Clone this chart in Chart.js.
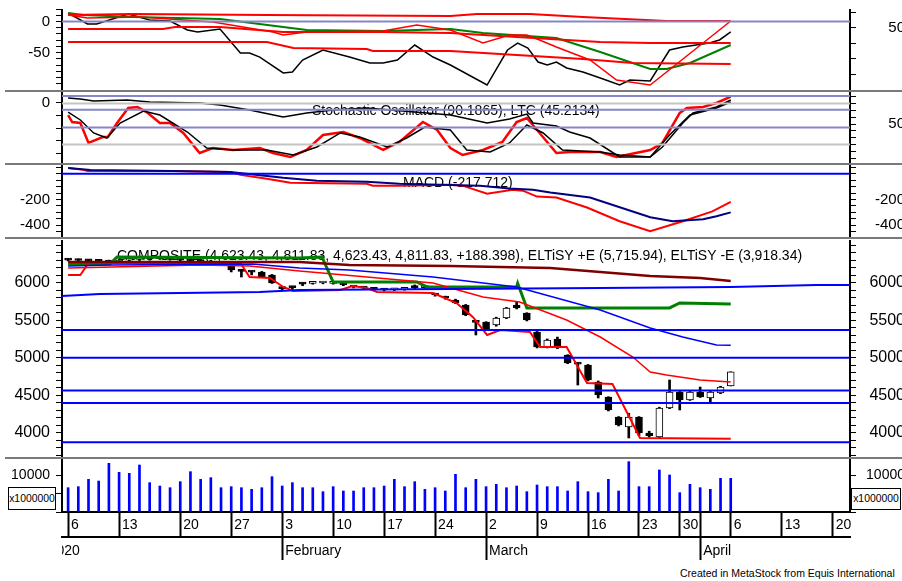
<!DOCTYPE html>
<html>
<head>
<meta charset="utf-8">
<script src="https://cdn.jsdelivr.net/npm/chart.js@4.4.1/dist/chart.umd.min.js"></script>
<style>
html, body { margin: 0; padding: 0; background: #fff; overflow: hidden; }
#wrap { position: relative; width: 902px; height: 581px; overflow: hidden; font-family: "Liberation Sans", Arial, sans-serif; }
canvas { position: absolute; left: 0; }
.sep { position: absolute; left: 5px; width: 897px; height: 2px; background: #7a7a7a; }
.box { position: absolute; border: 1px solid #000; font-size: 10.4px; text-align: center; background: #fff; color: #000; white-space: nowrap; }
#credit { position: absolute; left: 680px; top: 567px; font-size: 10.5px; color: #000; white-space: nowrap; }
#clip2020 { position: absolute; left: 0; top: 538px; width: 62px; height: 24px; background: #fff; }
</style>
</head>
<body>
<div id="wrap">
  <canvas id="cMom" width="906" height="81" style="top:9px"></canvas>
  <canvas id="cSto" width="906" height="71" style="top:92px"></canvas>
  <canvas id="cMacd" width="906" height="72" style="top:165px"></canvas>
  <canvas id="cPrice" width="906" height="218" style="top:240px"></canvas>
  <canvas id="cVol" width="906" height="102" style="top:458px"></canvas>
  <div class="sep" style="top:90px"></div>
  <div class="sep" style="top:163px"></div>
  <div class="sep" style="top:237px"></div>
  <div class="sep" style="top:457px"></div>
  <div id="clip2020"></div>
  <div class="box" style="left:8px;top:487px;width:46px;height:21px;line-height:21px">x1000000</div>
  <div class="box" style="left:851px;top:488px;width:48px;height:20px;line-height:20px">x1000000</div>
  <div id="credit">Created in MetaStock from Equis International</div>
</div>
<script>
// bar index 0 = Jan 6 2020, one step per trading day
const XMIN = -0.6, XMAX = 76.7;
const FONT = '"Liberation Sans", Arial, sans-serif';

// date axis
const dayTicks = [0, 5, 11, 16, 21, 26, 31, 36, 41, 46, 51, 56, 60, 62, 65, 70, 75];
const dayLabels = ['6', '13', '20', '27', '3', '10', '17', '24', '2', '9', '16', '23', '30', '', '6', '13', '20'];
const monthTicks = [-2.2, 21, 41, 62];
const monthLabels = ['2020', 'February', 'March', 'April'];

// top panel (oscillator with bands)
const momBlack = [[0,13.6],[1.9,-4],[2.8,-4],[5.9,12],[8,2.4],[10,0.8],[11.7,-13.6],[12.7,-16.8],[14.9,-12],[16.9,-50.5],[17.8,-50.5],[18.8,-57],[21.1,-82.5],[22,-81],[23,-61.7],[25,-45.7],[27.6,-57],[29.6,-66.5],[30.9,-66.5],[32.3,-61.7],[34,-37.7],[35.8,-57],[37.5,-69.7],[41.1,-101.8],[43.1,-45.7],[44.1,-34.5],[45.1,-42.5],[46.1,-65],[47,-69.7],[47.9,-65],[48.9,-74.5],[50.5,-81],[52.2,-90.5],[54.1,-101.8],[55.1,-93.8],[57.1,-95.4],[59,-45.7],[60.3,-40.9],[62.9,-34.5],[63.9,-29.6],[65,-16.8]];
const momGreen = [[0,13.6],[1.5,10.4],[6.4,7.2],[14.9,4],[21.1,-8.8],[23.4,-13.6],[30.9,-15.2],[37.5,-12],[40.7,-18.4],[47.9,-26.4],[52.2,-48.9],[57.1,-76],[58.7,-76],[61,-66.5],[65,-37.7]];
const momRedTop = [[0,10.4],[6.4,12],[19.5,10.4],[37.5,8.8],[40.1,12],[45.3,12],[50.5,7.2],[58.7,0.8],[65,0.8]];
const momRedFast = [[0,10.4],[1.9,5.6],[7.1,7.2],[14.2,-0.8],[20.1,-16.8],[21.1,-21.6],[23.4,-16.8],[30.9,-15.2],[34.2,-5.6],[37.5,-13.6],[40.7,-34.5],[43.3,-21.6],[45,-21.6],[46,-28],[47.9,-40.9],[51.2,-61.7],[53.8,-93.8],[57.1,-101.8],[65,0.8]];
const momRedMid = [[0,-12],[9.3,-12],[10.5,-8.8],[14.9,-8.8],[21.1,-16.8],[30.9,-16.8],[37.5,-18.4],[52.2,-32.9],[57.1,-34.5],[65,-34.5]];
const momRedLow = [[0,-32.9],[19.5,-32.9],[22.1,-42.5],[29.3,-44.1],[29.9,-47.3],[37.5,-47.3],[44,-53.7],[50.5,-60.1],[55.4,-66.5],[65,-68.1]];

// stochastic panel
const stochK = [[0,63.2],[0.4,52.9],[1.2,51.5],[2,22.1],[3.4,30.9],[3.9,30.9],[4.8,51.5],[5.9,73.5],[6.8,75],[7.7,67.6],[9,51.5],[10,51.5],[11.3,36.8],[12.9,7.4],[14.2,14.7],[16.2,11.8],[18.8,14.7],[20.1,7.4],[21.8,1.5],[23.4,11.8],[25,33.8],[27,38.2],[28.6,29.4],[30.9,11.8],[32.5,23.5],[34.8,52.9],[36.2,41.2],[37.5,14.7],[38.7,4.4],[40.7,11.8],[42.6,23.5],[44,52.9],[45,58.8],[46,41.2],[47.9,7.4],[49.2,8.8],[52.2,8.8],[53.8,1.5],[57.1,11.8],[58.3,22.1],[60,66.2],[60.7,73.5],[62.3,75],[63.6,80.9],[65,90.2]];
const stochD = [[0,67.6],[1.2,55.9],[2.5,36.8],[3.8,29.4],[5.1,51.5],[7.4,69.1],[9,63.2],[11.7,38.2],[13.6,14.7],[16.2,11.8],[19.5,11.8],[22.1,4.4],[24.4,16.2],[26.7,36.8],[28.6,30.9],[31.3,16.2],[33.2,29.4],[35,45.6],[37.5,41.2],[39.1,11.8],[41.4,8.8],[43.3,22.1],[45,48.5],[46.6,36.8],[48.5,11.8],[52.2,8.8],[54.1,4.4],[57.1,1.5],[58.3,16.2],[60.3,51.5],[61.3,66.2],[63.6,75],[65,85.3]];
const ltcLine = [[0,4],[1.2,3.2],[2.5,1.6],[5.8,2.4],[8,0.8],[12.9,0],[14.9,-1.6],[17.8,-5.6],[21.1,-11.2],[23.4,-8],[26,-5.6],[29.3,-4],[37.5,-9.6],[41.1,-16],[43.3,-12.8],[45,-8.8],[45.6,-16],[47.9,-18.4],[49.2,-23.2],[51.2,-28],[54.1,-43.2],[57.1,-43.2],[59,-25.6],[61,-9.6],[63.6,-4],[65,0.8]];
const stochLevels = [91, 71, 45];
const stochBands = [80, 20];

// MACD panel
const macdLine = [[0,46],[1.5,31],[1.9,23],[10.3,23],[15.9,15],[16.9,-8],[19.5,-38],[21.8,-69],[29.3,-77],[29.9,-92],[32.5,-92],[37.5,-85],[38.7,-92],[41.1,-154],[43.6,-123],[44.6,-131],[46,-177],[47.9,-185],[50.9,-262],[54.1,-369],[57.1,-446],[60.3,-369],[63.2,-292],[65,-217.7]];
const macdSignal = [[0,46],[2.2,31],[10.3,23],[15.9,15],[21.1,-31],[24.4,-54],[29.3,-62],[32.5,-77],[40.4,-92],[43.3,-115],[45.6,-123],[47.3,-146],[51.2,-185],[57.1,-338],[59.3,-369],[62.3,-354],[63.6,-331],[65,-300]];

// price panel
const opens  = [6300,6300,6296,6290,6285,6276,6300,6310,6320,6330,6320,6310,6300,6290,6280,6260,6236,6169,6150,6143,6103,5943,5943,5990,5990,5996,5990,5996,5960,5940,5920,5910,5905,5910,5960,5935,5850,5809,5769,5703,5480,5476,5436,5529,5703,5596,5343,5143,5249,5036,4929,4903,4676,4476,4209,4076,4209,3996,3943,4329,4543,4436,4543,4463,4529,4623.43];
const highs  = [6320,6316,6310,6300,6300,6310,6320,6330,6340,6350,6340,6330,6320,6310,6300,6270,6250,6175,6155,6150,6110,5950,5950,6000,6010,6010,6005,6000,5965,5950,5930,5920,5925,5935,5970,5950,5860,5820,5780,5710,5480,5480,5540,5670,5740,5600,5350,5250,5275,5040,4935,4910,4690,4480,4215,4260,4215,4020,4340,4703,4550,4550,4609,4550,4620,4811.83];
const lows   = [6290,6290,6276,6270,6260,6270,6290,6295,6300,6310,6300,6290,6280,6270,6250,6230,6143,6076,6103,6070,5990,5903,5910,5960,5980,5985,5980,5960,5930,5920,5895,5890,5895,5900,5920,5925,5820,5780,5720,5560,5303,5360,5420,5520,5650,5490,5130,5130,5120,4920,4636,4690,4463,4290,4090,3930,3960,3940,3930,4320,4303,4430,4470,4410,4520,4623.43];
const closes = [6300,6296,6290,6285,6276,6300,6310,6320,6330,6320,6310,6300,6290,6280,6260,6240,6169,6150,6140,6076,5996,5920,5935,5980,5996,6000,5995,5970,5943,5929,5910,5903,5910,5929,5929,5943,5836,5796,5729,5569,5470,5369,5529,5663,5663,5503,5143,5236,5156,4929,4915,4703,4503,4303,4103,4209,3996,3960,4329,4543,4436,4543,4476,4543,4609,4811.83];
const maLong   = [[0,6276],[12.9,6276],[22.7,6276],[27.6,6236],[37.5,6223],[42.4,6209],[47.3,6196],[52.2,6143],[57.1,6089],[62,6063],[65,6023]];
const stopPlus = [[0,6249],[4.1,6249],[4.8,6343],[22.7,6329],[24.9,6343],[26,6009],[34.2,6009],[35.2,5943],[44,5943],[44.1,5992],[45,5663],[59,5663],[60,5729],[65,5715.94]];
const stopMinus = [[0,6103],[1.2,6103],[2,6263],[16.9,6263],[17.8,6076],[19.8,6063],[21.1,5943],[22.1,5889],[26.7,5903],[27.9,5956],[29.3,5929],[30.3,5876],[35.8,5863],[38.1,5729],[39.7,5543],[41.1,5303],[42.4,5369],[45.3,5343],[46.3,5143],[48.9,5143],[50.9,4663],[53.4,4649],[56.1,3929],[65,3918.34]];
const maShort = [[0,6196],[12.9,6236],[17.8,6223],[22.7,6156],[29.3,6076],[35.8,5996],[40.7,5809],[44.3,5743],[48.9,5503],[52.2,5276],[55.4,5009],[57.1,4809],[58.7,4769],[62,4703],[65,4676]];
const maMid = [[0,6223],[4.1,6236],[18.1,6249],[22.7,6196],[27.6,6169],[35.8,6076],[44,5943],[52.2,5636],[57.1,5396],[60.3,5276],[63.6,5169],[65,5165]];
const trendLine = [[-0.6,5823],[3.1,5849],[11,5863],[18.8,5876],[22.7,5903],[52.2,5929],[65,5943],[73.4,5969],[76.7,5969]];
const levels = [5369, 5000, 4564, 4396, 3872];

// volume (x1000000)
const volumes = [6660,6940,8950,8490,13330,10870,10590,12880,8040,7120,6660,8310,11050,8950,9410,6660,6940,6660,6210,6660,9680,7120,8040,6660,6660,5570,6940,5750,5750,6660,6660,7120,8950,6940,8310,6210,6660,5750,10320,6660,8950,6940,7580,6660,7120,5570,7400,6940,6940,5750,8310,5570,5300,8950,5750,13790,6940,6940,11510,10140,5300,7580,6660,6210,9220,9220];

const titlePlugin = {
  id: 'panelTitle',
  beforeDatasetsDraw(chart, args, opts) {
    if (!opts || !opts.text) return;
    const c = chart.ctx;
    c.save();
    c.font = (opts.size || 14) + 'px ' + FONT;
    c.fillStyle = '#000';
    c.textBaseline = 'middle';
    c.fillText(opts.text, opts.x, opts.y);
    c.restore();
  }
};
Chart.register(titlePlugin);

function lineDs(pairs, color, width, axis) {
  return {
    type: 'line',
    data: pairs.map(([x, y]) => ({ x, y })),
    borderColor: color,
    borderWidth: width,
    pointRadius: 0,
    tension: 0,
    fill: false,
    yAxisID: axis || 'y',
    order: 0
  };
}
function hLine(v, color, width, axis) {
  return lineDs([[XMIN, v], [XMAX, v]], color, width, axis);
}

// right-hand labels are pushed so that they end near the window edge
const measure = document.createElement('canvas').getContext('2d');
function widest(labels, size) {
  measure.font = size + 'px ' + FONT;
  return Math.max(...labels.map(l => measure.measureText(String(l)).width));
}

function yAxis(position, min, max, step, shown, size, width) {
  const pad = position === 'right' ? Math.max(4, width - 7 - widest(shown, size)) : 6;
  return {
    type: 'linear',
    position,
    min,
    max,
    beginAtZero: false,
    // ticks on every multiple of step inside the range
    afterBuildTicks: s => {
      const t = [];
      for (let k = Math.ceil(min / step); k * step <= max; k++) t.push({ value: k * step });
      s.ticks = t;
    },
    afterFit: s => {
      s.width = width;
      s.paddingTop = 0;
      s.paddingBottom = 0;
    },
    ticks: {
      autoSkip: false,
      color: '#000',
      padding: pad,
      crossAlign: 'near',
      font: { family: FONT, size },
      callback: v => shown.some(s => Math.abs(s - v) < 1e-6) ? String(Math.round(v)) : ''
    },
    grid: { drawOnChartArea: false, drawTicks: true, tickLength: 6, color: '#000', lineWidth: 1 },
    border: { display: true, color: '#000', width: 2 }
  };
}

const xHidden = { type: 'linear', min: XMIN, max: XMAX, display: false, offset: false };

function baseOptions(scales, title) {
  return {
    responsive: false,
    animation: false,
    events: [],
    layout: { padding: 0 },
    plugins: { legend: { display: false }, tooltip: { enabled: false }, panelTitle: title || {} },
    scales
  };
}

// top panel
new Chart(document.getElementById('cMom'), {
  type: 'line',
  data: {
    datasets: [
      hLine(0, '#8585c8', 2),
      lineDs(momRedTop, '#ff0000', 2),
      lineDs(momRedMid, '#ff0000', 2),
      lineDs(momRedLow, '#ff0000', 2),
      lineDs(momRedFast, '#ff0000', 1.5),
      lineDs(momGreen, '#008000', 2),
      lineDs(momBlack, '#000000', 1.5)
    ]
  },
  options: baseOptions({
    x: xHidden,
    y: yAxis('left', -109.8, 20, 10, [0, -50], 15, 62),
    yr: yAxis('right', -50, 80.6, 25, [50], 15, 56)
  })
});

// stochastic panel
new Chart(document.getElementById('cSto'), {
  type: 'line',
  data: {
    datasets: [
      ...stochBands.map(v => hLine(v, '#c4c4c4', 2, 'yr')),
      ...stochLevels.map(v => hLine(v, '#8585d0', 2, 'yr')),
      lineDs(ltcLine, '#000000', 1.5, 'y'),
      lineDs(stochD, '#000000', 1.5, 'yr'),
      lineDs(stochK, '#ff0000', 2.5, 'yr')
    ]
  },
  options: baseOptions({
    x: xHidden,
    y: yAxis('left', -48, 8.8, 10, [0], 15, 62),
    yr: yAxis('right', -7.35, 97.06, 10, [50], 15, 56)
  }, { text: 'Stochastic Oscillator (90.1865), LTC (45.2134)', x: 312, y: 19, size: 14 })
});

// MACD panel
new Chart(document.getElementById('cMacd'), {
  type: 'line',
  data: {
    datasets: [
      hLine(0, '#0000ff', 2),
      lineDs(macdSignal, '#000080', 2),
      lineDs(macdLine, '#ff0000', 2)
    ]
  },
  options: baseOptions({
    x: xHidden,
    y: yAxis('left', -492, 69, 50, [-200, -400], 15, 62),
    yr: yAxis('right', -492, 69, 50, [-200, -400], 15, 56)
  }, { text: 'MACD (-217.712)', x: 403, y: 18, size: 14 })
});

// price panel
const isUp = i => closes[i] > opens[i];
new Chart(document.getElementById('cPrice'), {
  type: 'line',
  data: {
    datasets: [
      {
        type: 'bar',
        data: lows.map((l, i) => ({ x: i, y: [l, highs[i]] })),
        backgroundColor: '#000',
        barThickness: 2,
        grouped: false,
        yAxisID: 'y',
        order: 2
      },
      {
        type: 'bar',
        data: opens.map((o, i) => ({ x: i, y: [o, closes[i]] })),
        backgroundColor: ctx => isUp(ctx.dataIndex) ? '#ffffff' : '#000000',
        borderColor: '#000',
        borderWidth: 1,
        borderSkipped: false,
        barThickness: 7,
        minBarLength: 2,
        grouped: false,
        yAxisID: 'y',
        order: 1
      },
      ...levels.map(v => hLine(v, '#0000ff', 2)),
      lineDs(trendLine, '#0000ff', 2),
      lineDs(maLong, '#800000', 2.5),
      lineDs(maMid, '#0000ff', 1.5),
      lineDs(maShort, '#ff0000', 1.5),
      lineDs(stopMinus, '#ff0000', 2),
      lineDs(stopPlus, '#008000', 3)
    ]
  },
  options: baseOptions({
    x: xHidden,
    y: yAxis('left', 3663, 6569, 100, [4000, 4500, 5000, 5500, 6000], 16, 62),
    yr: yAxis('right', 3663, 6569, 100, [4000, 4500, 5000, 5500, 6000], 16, 56)
  }, { text: 'COMPOSITE (4,623.43, 4,811.83, 4,623.43, 4,811.83, +188.398), ELTiSY +E (5,715.94), ELTiSY -E (3,918.34)', x: 117, y: 16, size: 14 })
});

// volume panel + date axis
function dateAxis(ticksAt, labels, weight, rowHeight, pad, hideFirst) {
  return {
    type: 'linear',
    position: 'bottom',
    min: XMIN,
    max: XMAX,
    offset: false,
    weight,
    afterBuildTicks: s => { s.ticks = ticksAt.map(v => ({ value: v })); },
    afterFit: s => { s.height = rowHeight; s.paddingLeft = 0; s.paddingRight = 0; },
    ticks: {
      autoSkip: false,
      maxRotation: 0,
      minRotation: 0,
      align: 'start',
      labelOffset: 3,
      padding: pad,
      color: '#000',
      font: { family: FONT, size: 14 },
      callback: (v, i) => labels[i]
    },
    grid: {
      drawOnChartArea: false,
      drawTicks: true,
      offset: false,
      tickLength: rowHeight,
      tickWidth: 2,
      tickColor: ctx => (hideFirst && ctx.index === 0) ? 'rgba(0,0,0,0)' : '#000'
    },
    border: { display: true, color: '#000', width: 2 }
  };
}

new Chart(document.getElementById('cVol'), {
  type: 'line',
  data: {
    datasets: [{
      type: 'bar',
      data: volumes.map((v, i) => ({ x: i, y: v })),
      backgroundColor: '#0000ff',
      barThickness: 2,
      grouped: false,
      yAxisID: 'y'
    }]
  },
  options: baseOptions({
    x: dateAxis(dayTicks, dayLabels, 0, 25, -20.4, false),
    x2: dateAxis(monthTicks, monthLabels, 1, 23, -17.4, true),
    y: yAxis('left', 0, 14795, 5000, [10000], 14, 62),
    yr: yAxis('right', 0, 14795, 5000, [10000], 14, 56)
  })
});
</script>
</body>
</html>
